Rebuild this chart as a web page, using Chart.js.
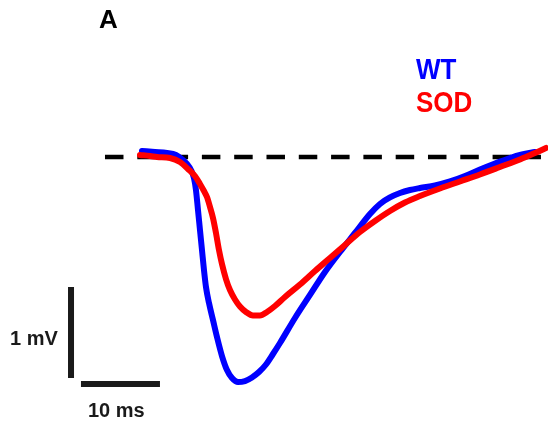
<!DOCTYPE html>
<html>
<head>
<meta charset="utf-8">
<script src="https://cdn.jsdelivr.net/npm/chart.js@4/dist/chart.umd.min.js"></script>
<style>
  html, body { margin: 0; padding: 0; background: #fff; }
  canvas { display: block; }
</style>
</head>
<body>
<canvas id="c" width="548" height="429"></canvas>
<script>
// ---- Data (time in ms, voltage in mV) ----
const wtTime = [0.253, 1.899, 3.418, 4.557, 5.443, 5.949, 6.456, 6.835, 7.089, 7.342, 7.595, 7.848, 8.101, 8.354, 8.734, 9.241, 9.747, 10.380, 11.013, 11.646, 12.405, 13.291, 14.177, 15.063, 15.949, 16.835, 17.722, 19.620, 21.519, 23.418, 25.316, 27.215, 29.114, 30.380, 31.646, 32.911, 34.177, 35.443, 37.342, 39.241, 41.139, 43.038, 44.937, 46.835, 48.354, 50.0];
const wtValues = [0.066, 0.055, 0.044, 0.022, -0.033, -0.077, -0.143, -0.231, -0.363, -0.582, -0.802, -1.022, -1.242, -1.429, -1.604, -1.791, -1.978, -2.187, -2.341, -2.429, -2.473, -2.462, -2.423, -2.363, -2.280, -2.165, -2.044, -1.769, -1.516, -1.264, -1.044, -0.835, -0.626, -0.516, -0.445, -0.396, -0.363, -0.341, -0.313, -0.269, -0.209, -0.137, -0.071, -0.011, 0.027, 0.055];

const sodTime = [0, 1.266, 2.152, 3.797, 5.063, 6.076, 6.962, 7.595, 8.101, 8.481, 8.861, 9.241, 9.620, 10.0, 10.380, 10.886, 11.392, 12.025, 12.658, 13.418, 14.304, 15.190, 16.076, 17.089, 18.354, 20.253, 22.152, 24.051, 25.949, 27.848, 29.747, 31.646, 33.544, 35.443, 37.975, 40.506, 43.038, 45.570, 48.101, 50.0, 51.392];
const sodValues = [0.022, 0.011, 0, -0.011, -0.055, -0.132, -0.209, -0.297, -0.374, -0.440, -0.549, -0.670, -0.835, -1.022, -1.176, -1.341, -1.462, -1.566, -1.643, -1.703, -1.742, -1.742, -1.703, -1.637, -1.538, -1.401, -1.253, -1.110, -0.967, -0.824, -0.703, -0.593, -0.500, -0.429, -0.346, -0.269, -0.192, -0.110, -0.027, 0.044, 0.099];

const baselineTime = [-4.43, 50.76];
const baselineValues = [0, 0];

// scale bars: 10 ms horizontal, 1 mV vertical
const hBarTime = [-7.47, 2.53];
const hBarValues = [-2.495, -2.495];
const vBarTime = [-8.73, -8.73];
const vBarValues = [-1.429, -2.429];

const seriesLabels = ['WT', 'SOD'];
const scaleLabels = ['1 mV', '10 ms'];
const panelLabel = 'A';

function pts(xs, ys) { return xs.map((x, i) => ({ x: x, y: ys[i] })); }

const textPlugin = {
  id: 'texts',
  afterDraw(chart) {
    const ctx = chart.ctx;
    ctx.save();
    ctx.textBaseline = 'alphabetic';
    ctx.textAlign = 'left';
    ctx.fillStyle = '#000';
    ctx.font = 'bold 26px "Liberation Sans", Arial, sans-serif';
    ctx.fillText(panelLabel, 99, 28);

    ctx.font = 'bold 26px "Liberation Sans", Arial, sans-serif';
    ctx.fillStyle = '#0000ff';
    ctx.save(); ctx.translate(416, 79); ctx.scale(1, 1.1); ctx.fillText(seriesLabels[0], 0, 0); ctx.restore();
    ctx.fillStyle = '#ff0000';
    ctx.save(); ctx.translate(416, 112); ctx.scale(1, 1.1); ctx.fillText(seriesLabels[1], 0, 0); ctx.restore();

    ctx.fillStyle = '#1a1a1a';
    ctx.font = 'bold 20px "Liberation Sans", Arial, sans-serif';
    ctx.fillText(scaleLabels[0], 10, 345);
    ctx.fillText(scaleLabels[1], 88, 417);
    ctx.restore();
  }
};

new Chart(document.getElementById('c'), {
  type: 'line',
  data: {
    datasets: [
      { label: 'SOD', data: pts(sodTime, sodValues), borderColor: '#ff0000', borderWidth: 6, pointRadius: 0, cubicInterpolationMode: 'monotone', borderCapStyle: 'round', borderJoinStyle: 'round', order: 0, fill: false },
      { label: 'WT', data: pts(wtTime, wtValues), borderColor: '#0000ff', borderWidth: 6, pointRadius: 0, cubicInterpolationMode: 'monotone', borderCapStyle: 'round', borderJoinStyle: 'round', order: 1, fill: false },
      { label: 'baseline', data: pts(baselineTime, baselineValues), borderColor: '#000', borderWidth: 4.5, borderDash: [18.5, 13.8], pointRadius: 0, order: 2, fill: false },
      { label: 'hbar', data: pts(hBarTime, hBarValues), borderColor: '#1a1a1a', borderWidth: 6, pointRadius: 0, order: 3, fill: false },
      { label: 'vbar', data: pts(vBarTime, vBarValues), borderColor: '#1a1a1a', borderWidth: 6, pointRadius: 0, order: 3, fill: false }
    ]
  },
  options: {
    responsive: false,
    animation: false,
    devicePixelRatio: 1,
    layout: { padding: 0 },
    plugins: { legend: { display: false }, tooltip: { enabled: false }, title: { display: false } },
    scales: {
      x: { type: 'linear', display: false, min: -17.72, max: 51.65 },
      y: { type: 'linear', display: false, min: -2.989, max: 1.725 }
    }
  },
  plugins: [textPlugin]
});
</script>
</body>
</html>
